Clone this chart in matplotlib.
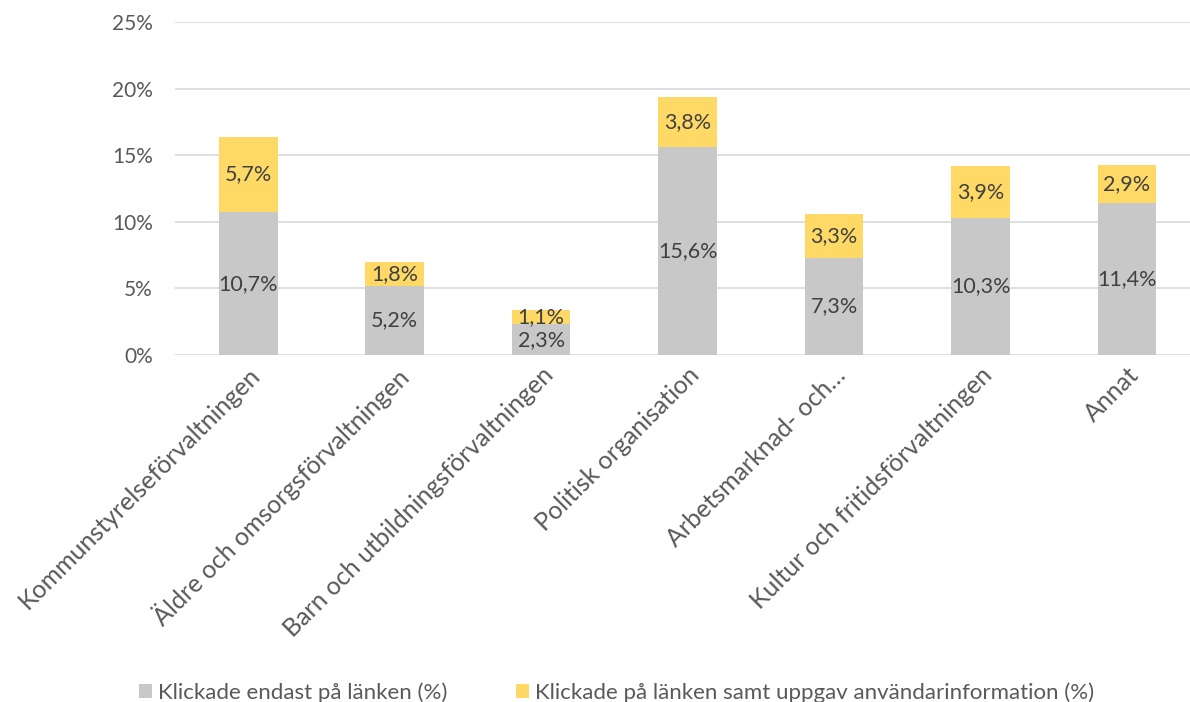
import matplotlib.pyplot as plt
from matplotlib.ticker import FuncFormatter

# Data
categories = [
    'Kommunstyrelseförvaltningen',
    'Äldre och omsorgsförvaltningen',
    'Barn och utbildningsförvaltningen',
    'Politisk organisation',
    'Arbetsmarknad- och…',
    'Kultur och fritidsförvaltningen',
    'Annat',
]
only_link = [10.7, 5.2, 2.3, 15.6, 7.3, 10.3, 11.4]
link_and_info = [5.7, 1.8, 1.1, 3.8, 3.3, 3.9, 2.9]
series_names = ['Klickade endast på länken (%)',
                'Klickade på länken samt uppgav användarinformation (%)']

grey = '#C8C8C8'
yellow = '#FFD966'
text_col = '#595959'
label_col = '#404040'

plt.rcParams['font.family'] = ['Lato', 'DejaVu Sans']

fig = plt.figure(figsize=(11.9, 7.02), dpi=100)
ax = fig.add_axes([175 / 1190, 1 - 355 / 702, 1015 / 1190, (355 - 22) / 702])

x = range(len(categories))
w = 0.4
ax.bar(x, only_link, w, color=grey, label=series_names[0], zorder=2)
ax.bar(x, link_and_info, w, bottom=only_link, color=yellow,
       label=series_names[1], zorder=2)

fmt = lambda v: f'{v:.1f}%'.replace('.', ',')
for i in x:
    ax.text(i, only_link[i] / 2, fmt(only_link[i]), ha='center', va='center',
            fontsize=15.5, color=label_col, zorder=3)
    ax.text(i, only_link[i] + link_and_info[i] / 2, fmt(link_and_info[i]),
            ha='center', va='center', fontsize=15.5, color=label_col, zorder=3)

ax.set_ylim(0, 25)
ax.set_yticks([0, 5, 10, 15, 20, 25])
ax.yaxis.set_major_formatter(FuncFormatter(lambda v, p: f'{v:.0f}%'))
ax.set_xlim(-0.5, 6.43)
ax.set_xticks(list(x))
ax.set_xticklabels(categories, rotation=45, ha='right', rotation_mode='anchor')

ax.grid(axis='y', color='#D9D9D9', linewidth=1.2, zorder=0)
for s in ax.spines.values():
    s.set_visible(False)
ax.tick_params(axis='y', length=0, labelsize=15, colors=text_col, pad=16)
ax.tick_params(axis='x', length=0, labelsize=18, colors=text_col, pad=6)

fig.legend(loc='lower center', bbox_to_anchor=(0.518, -0.03), ncol=2, frameon=False,
           fontsize=16, labelcolor=text_col, handlelength=0.6, handleheight=0.6,
           handletextpad=0.25, columnspacing=3.1)

fig.savefig('out.png', dpi=100)
